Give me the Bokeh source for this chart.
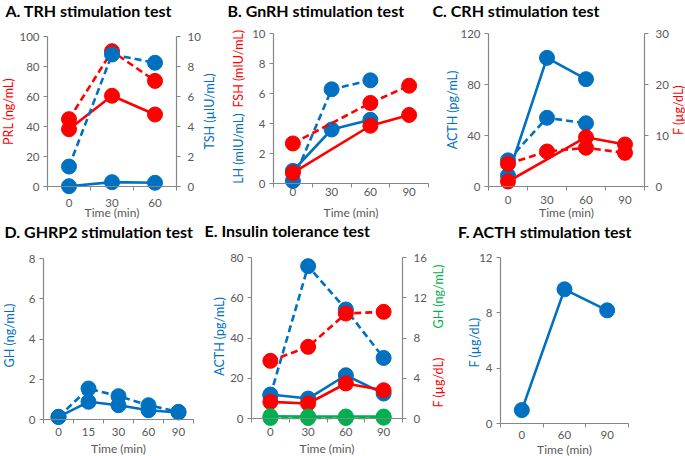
import math
from bokeh.plotting import figure
from bokeh.models import Range1d, LinearAxis, FixedTicker, Label, ColumnDataSource
from bokeh.layouts import column, row
from bokeh.embed import file_html
from bokeh.resources import INLINE

BLUE = "#0070C0"
RED = "#FF0000"
GREEN = "#00B050"
AXIS = "#868686"
TICKTXT = "#595959"
FONT = "Lato"

# ---------------- data ----------------
# A. TRH stimulation test
a_times = ["0", "30", "60"]
a_prl_solid = [38.2, 60.5, 48.0]
a_prl_dashed = [44.9, 90.2, 70.4]
a_tsh_dashed = [1.33, 8.8, 8.25]
a_tsh_solid = [0.02, 0.29, 0.25]

# B. GnRH stimulation test
b_times = ["0", "30", "60", "90"]
b_lh_times = ["0", "30", "60"]
b_lh_solid = [0.84, 3.6, 4.25]
b_lh_dashed = [0.17, 6.28, 6.88]
b_fsh_times = ["0", "60", "90"]
b_fsh_solid = [0.71, 3.85, 4.57]
b_fsh_dashed = [2.67, 5.37, 6.52]

# C. CRH stimulation test
c_times = ["0", "30", "60", "90"]
c_acth_times = ["0", "30", "60"]
c_acth_solid = [8.6, 100.9, 84.2]
c_acth_dashed = [20.5, 53.9, 49.6]
c_f_solid_times = ["0", "60", "90"]
c_f_solid = [0.98, 9.67, 8.24]
c_f_dashed_times = ["0", "30", "60", "90"]
c_f_dashed = [4.45, 6.86, 7.6, 6.6]

# D. GHRP2 stimulation test
d_times = ["0", "15", "30", "60", "90"]
d_gh_solid = [0.13, 0.88, 0.71, 0.46, 0.35]
d_gh_dashed = [0.13, 1.54, 1.16, 0.71, 0.38]

# E. Insulin tolerance test
e_times = ["0", "30", "60", "90"]
e_acth_solid = [11.9, 9.9, 21.5, 12.4]
e_acth_dashed = [11.4, 75.7, 54.2, 30.1]
e_f_solid = [1.65, 1.49, 3.48, 2.81]
e_f_dashed = [5.73, 7.12, 10.43, 10.6]
e_gh_solid = [0.23, 0.2, 0.2, 0.2]
e_gh_dashed = [0.05, 0.05, 0.05, 0.08]

# F. ACTH stimulation test
f_times = ["0", "60", "90"]
f_cortisol = [0.97, 9.7, 8.18]


def tick_axis(**kw):
    base = dict(axis_line_color=AXIS, axis_line_width=1.2,
                major_tick_line_color=AXIS, minor_tick_line_color=AXIS,
                major_tick_in=0, minor_tick_in=0,
                major_label_text_font=FONT, major_label_text_font_size="11.5px",
                major_label_text_color=TICKTXT)
    base.update(kw)
    return LinearAxis(**base)


def make_panel(W, H, L, T, w, h, cats, ymax, yticks, xstandoff, rmax=None, rticks=None):
    """Figure whose frame is the whole figure; the plotting band is w x h at (L, T)."""
    n = len(cats)
    cw = w / n
    R = W - L - w
    Bm = H - T - h
    p = figure(width=W, height=H,
               x_range=Range1d(-L / cw, n + R / cw),
               y_range=Range1d(-Bm / h * ymax, ymax + T / h * ymax),
               output_backend="svg", toolbar_location=None,
               x_axis_location=None, y_axis_location=None, min_border=0)
    p.title.visible = False
    p.outline_line_color = None
    p.xgrid.visible = False
    p.ygrid.visible = False
    centers = [i + 0.5 for i in range(n)]
    xa = tick_axis(fixed_location=0, bounds=(0, n),
                   ticker=FixedTicker(ticks=centers, minor_ticks=list(range(n + 1))),
                   major_label_overrides={c: lab for c, lab in zip(centers, cats)},
                   major_tick_out=0, minor_tick_out=4,
                   major_label_standoff=xstandoff)
    p.add_layout(xa, "below")
    ya = tick_axis(fixed_location=0, bounds=(0, ymax),
                   ticker=FixedTicker(ticks=yticks, minor_ticks=[]),
                   major_tick_out=4, minor_tick_out=0, major_label_standoff=4)
    p.add_layout(ya, "left")
    if rmax is not None:
        p.extra_y_ranges = {"r": Range1d(-Bm / h * rmax, rmax + T / h * rmax)}
        ra = tick_axis(y_range_name="r", fixed_location=n, bounds=(0, rmax),
                       ticker=FixedTicker(ticks=rticks, minor_ticks=[]),
                       major_tick_out=4, minor_tick_out=0, major_label_standoff=7)
        p.add_layout(ra, "right")
    return p


def series(p, cats, times, vals, color, dashed, yname=None):
    kw = {} if yname is None else {"y_range_name": yname}
    xs = [cats.index(t) + 0.5 for t in times]
    src = ColumnDataSource(dict(x=xs, y=vals))
    p.line("x", "y", source=src, line_color=color, line_width=2.6,
           line_dash="7 4" if dashed else "solid", **kw)
    p.scatter("x", "y", source=src, size=15, fill_color=color, line_color=color, **kw)


def text(p, H, fx, fy, s, color="#000000", size="12.5px", vertical=False,
         align="center", bold=False):
    p.add_layout(Label(x=fx, y=H - fy, x_units="screen", y_units="screen", text=s,
                       angle=math.pi / 2 if vertical else 0.0,
                       text_align=align, text_baseline="middle",
                       text_font=FONT, text_font_size=size, text_color=color,
                       text_font_style="bold" if bold else "normal"))


TITLE = "16px"
TIME = "12px"

# ---------------- A ----------------
H1 = 220
pA = make_panel(219, H1, 47, 36, 129, 150, a_times, 100, [0, 20, 40, 60, 80, 100], 8,
                rmax=10, rticks=[0, 2, 4, 6, 8, 10])
series(pA, a_times, a_times, a_prl_solid, RED, False)
series(pA, a_times, a_times, a_prl_dashed, RED, True)
series(pA, a_times, a_times, a_tsh_dashed, BLUE, True, "r")
series(pA, a_times, a_times, a_tsh_solid, BLUE, False, "r")
text(pA, H1, 5, 9.5, "A. TRH stimulation test", size=TITLE, align="left", bold=True)
text(pA, H1, 8, 111, "PRL (ng/mL)", RED, vertical=True)
text(pA, H1, 209, 111, "TSH (µIU/mL)", BLUE, vertical=True)
text(pA, H1, 111.5, 212, "Time (min)", TICKTXT, TIME)

# ---------------- B ----------------
pB = make_panel(211, H1, 54, 33, 155, 150, b_times, 10, [0, 2, 4, 6, 8, 10], 0)
series(pB, b_times, b_lh_times, b_lh_solid, BLUE, False)
series(pB, b_times, b_lh_times, b_lh_dashed, BLUE, True)
series(pB, b_times, b_fsh_times, b_fsh_solid, RED, False)
series(pB, b_times, b_fsh_times, b_fsh_dashed, RED, True)
text(pB, H1, 8, 9.5, "B. GnRH stimulation test", size=TITLE, align="left", bold=True)
text(pB, H1, 19, 113, "LH (mIU/mL)", BLUE, vertical=True, align="right")
text(pB, H1, 19, 107, "FSH (mIU/mL)", RED, vertical=True, align="left")
text(pB, H1, 131.5, 212, "Time (min)", TICKTXT, TIME)

# ---------------- C ----------------
pC = make_panel(255, H1, 58, 33, 156, 153, c_times, 120, [0, 40, 80, 120], 5,
                rmax=30, rticks=[0, 10, 20, 30])
series(pC, c_times, c_acth_times, c_acth_solid, BLUE, False)
series(pC, c_times, c_acth_times, c_acth_dashed, BLUE, True)
series(pC, c_times, c_f_solid_times, c_f_solid, RED, False, "r")
series(pC, c_times, c_f_dashed_times, c_f_dashed, RED, True, "r")
text(pC, H1, 2, 9.5, "C. CRH stimulation test", size=TITLE, align="left", bold=True)
text(pC, H1, 22, 109.5, "ACTH (pg/mL)", BLUE, vertical=True)
text(pC, H1, 248, 109.5, "F (µg/dL)", RED, vertical=True)
text(pC, H1, 136, 212, "Time (min)", TICKTXT, TIME)

# ---------------- D ----------------
H2 = 236
pD = make_panel(200, H2, 43, 38, 150, 161, d_times, 8, [0, 2, 4, 6, 8], 4)
series(pD, d_times, d_times, d_gh_solid, BLUE, False)
series(pD, d_times, d_times, d_gh_dashed, BLUE, True)
text(pD, H2, 4, 10.5, "D. GHRP2 stimulation test", size=TITLE, align="left", bold=True)
text(pD, H2, 8.5, 115, "GH (ng/mL)", BLUE, vertical=True)
text(pD, H2, 118, 228, "Time (min)", TICKTXT, TIME)

# ---------------- E ----------------
pE = make_panel(245, H2, 51, 37, 151, 161, e_times, 80, [0, 20, 40, 60, 80], 5,
                rmax=16, rticks=[0, 4, 8, 12, 16])
series(pE, e_times, e_times, e_acth_solid, BLUE, False)
series(pE, e_times, e_times, e_acth_dashed, BLUE, True)
series(pE, e_times, e_times, e_f_solid, RED, False, "r")
series(pE, e_times, e_times, e_f_dashed, RED, True, "r")
series(pE, e_times, e_times, e_gh_dashed, GREEN, True, "r")
series(pE, e_times, e_times, e_gh_solid, GREEN, False, "r")
text(pE, H2, 4, 10, "E. Insulin tolerance test", size=TITLE, align="left", bold=True)
text(pE, H2, 19, 116, "ACTH (pg/mL)", BLUE, vertical=True)
text(pE, H2, 238, 137, "F (µg/dL)", RED, vertical=True, align="right")
text(pE, H2, 238, 108, "GH (ng/mL)", GREEN, vertical=True, align="left")
text(pE, H2, 126.5, 228, "Time (min)", TICKTXT, TIME)

# ---------------- F ----------------
pF = make_panel(240, H2, 55, 37, 128, 166, f_times, 12, [0, 4, 8, 12], 3)
series(pF, f_times, f_times, f_cortisol, BLUE, False)
text(pF, H2, 12.5, 11, "F. ACTH stimulation test", size=TITLE, align="left", bold=True)
text(pF, H2, 28.5, 122, "F (µg/dL)", BLUE, vertical=True)
text(pF, H2, 119, 229, "Time (min)", TICKTXT, TIME)

layout = column(row(pA, pB, pC), row(pD, pE, pF))
open("out.html", "w").write(file_html(layout, INLINE))
